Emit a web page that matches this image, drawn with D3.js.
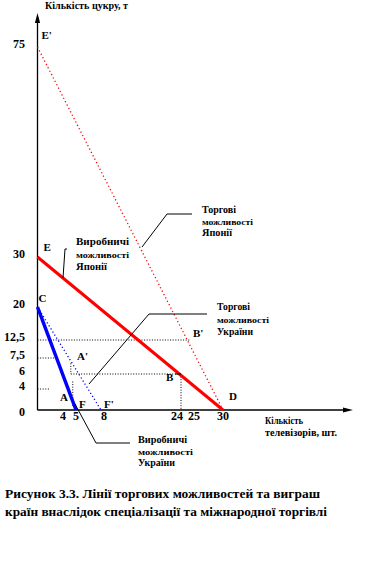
<!DOCTYPE html>
<html><head><meta charset="utf-8">
<script src="https://cdn.jsdelivr.net/npm/d3@7"></script>
<style>
html,body{margin:0;padding:0;background:#fff;}
svg{display:block;}
svg text{font-family:"Liberation Serif","Times New Roman",Times,serif !important;}
</style></head>
<body><svg id="c" width="365" height="571"></svg>
<script>
// ---- data ----
const xTicks = [4, 5, 8, 24, 25, 30];
const xTickLabels = ["4", "5", "8", "24", "25", "30"];
const yTicks = [0, 4, 6, 7.5, 12.5, 20, 30, 75];
const yTickLabels = ["0", "4", "6", "7,5", "12,5", "20", "30", "75"];
const japanPPF = [[0, 30], [30, 0]];        // E -> D
const japanTrade = [[0, 75], [30, 0]];      // E' -> D
const ukrainePPF = [[0, 20], [5, 0]];       // C -> F
const ukraineTrade = [[0, 20], [8, 0]];     // C -> F'
const pointNames = ["E'", "E", "C", "A'", "A", "F", "F'", "B", "B'", "D"];
const pointX = [0, 0, 0, 5, 4, 5, 8, 24, 25, 30];
const pointY = [75, 30, 20, 7.5, 4, 0, 0, 6, 12.5, 0];
const guides = [
  [[0, 12.5], [25, 12.5]],
  [[0, 7.5], [3, 7.5]],
  [[4.6, 7], [4.6, 6]],
  [[4.6, 6], [24, 6]],
  [[0, 4], [2, 4]],
  [[4.75, 5], [4.75, 0.5]],
  [[24, 6], [24, 0]]
];
const xAxisTitle = ["Кількість", "телевізорів, шт."];
const yAxisTitle = "Кількість цукру, т";
const calloutJapanPPF = ["Виробничі", "можливості", "Японії"];
const calloutJapanTrade = ["Торгові", "можливості", "Японії"];
const calloutUkraineTrade = ["Торгові", "можливості", "України"];
const calloutUkrainePPF = ["Виробничі", "можливості", "України"];
const caption = ["Рисунок 3.3. Лінії торгових можливостей та виграш",
                 "країн внаслідок спеціалізації та міжнародної торгівлі"];

// ---- layout (schematic, piecewise axes as in the original drawing) ----
const svg = d3.select("#c");
const x = d3.scaleLinear().domain([0, 4, 5, 8, 24, 25, 30, 40])
  .range([37.5, 63, 76, 101, 181, 190, 223, 289]);
const y = d3.scaleLinear().domain([0, 4, 6, 7.5, 12.5, 20, 30, 75])
  .range([410, 389, 374, 358, 340, 307, 257, 47]);
const line = d3.line().x(d => x(d[0])).y(d => y(d[1]));

// guides
svg.append("g").selectAll("path").data(guides).join("path")
  .attr("d", line).attr("fill", "none").attr("stroke", "#000")
  .attr("stroke-width", 1).attr("stroke-dasharray", "1,1.6");

// axes
const ax = svg.append("g").attr("stroke", "#000").attr("stroke-width", 1.3);
ax.append("line").attr("x1", x(0)).attr("x2", x(0)).attr("y1", y(0)).attr("y2", 20);
ax.append("line").attr("x1", x(0)).attr("x2", 345).attr("y1", y(0)).attr("y2", y(0));
svg.append("path").attr("d", `M${x(0)},13 L${x(0)-2.6},23 L${x(0)+2.6},23 Z`).attr("fill", "#000");
svg.append("path").attr("d", `M353,${y(0)} L343,${y(0)-2.5} L343,${y(0)+2.5} Z`).attr("fill", "#000");

// lines
svg.append("path").datum(japanTrade).attr("d", line).attr("fill", "none")
  .attr("stroke", "#ff0000").attr("stroke-width", 1.3).attr("stroke-dasharray", "1.2,2.6");
svg.append("path").datum(ukraineTrade).attr("d", line).attr("fill", "none")
  .attr("stroke", "#0000ff").attr("stroke-width", 1.3).attr("stroke-dasharray", "1.2,2.4");
svg.append("path").datum(japanPPF).attr("d", line).attr("fill", "none")
  .attr("stroke", "#ff0000").attr("stroke-width", 3);
svg.append("path").datum(ukrainePPF).attr("d", line).attr("fill", "none")
  .attr("stroke", "#0000ff").attr("stroke-width", 3.5);

// tick labels
svg.append("g").selectAll("text").data(yTicks).join("text")
  .attr("x", 25).attr("y", d => d === 0 ? y(d) + 3 : y(d) - 2)
  .attr("text-anchor", "end").attr("dominant-baseline", "middle")
  .attr("font-size", 12).attr("font-weight", "bold")
  .text((d, i) => yTickLabels[i]);
const xTickDx = {24: -4, 25: 4, 8: 3};
svg.append("g").selectAll("text").data(xTicks).join("text")
  .attr("x", d => x(d) + (xTickDx[d] || 0)).attr("y", 417)
  .attr("text-anchor", "middle").attr("dominant-baseline", "middle")
  .attr("font-size", 12).attr("font-weight", "bold")
  .text((d, i) => xTickLabels[i]);

// point labels
const labOff = {"E'": [4, -11], "E": [6, -9], "C": [1, -8], "A'": [1, -1], "A": [-3, 9],
  "F": [3, -5], "F'": [3, -5], "B": [-15, 4], "B'": [3, -6], "D": [6, -13]};
svg.append("g").selectAll("text").data(pointNames).join("text")
  .attr("x", (d, i) => x(pointX[i]) + labOff[d][0])
  .attr("y", (d, i) => y(pointY[i]) + labOff[d][1])
  .attr("dominant-baseline", "middle").attr("font-size", 11).attr("font-weight", "bold")
  .text(d => d);
svg.append("line").attr("x1", 175).attr("x2", x(24)).attr("y1", y(6)).attr("y2", y(6))
  .attr("stroke", "#000").attr("stroke-width", 1);

// axis titles
svg.append("text").attr("x", 45).attr("y", 7).attr("dominant-baseline", "middle")
  .attr("font-size", 10).attr("font-weight", "bold")
  .attr("textLength", 83).attr("lengthAdjust", "spacingAndGlyphs").text(yAxisTitle);
svg.append("g").selectAll("text").data(xAxisTitle).join("text")
  .attr("x", 265).attr("y", (d, i) => 422 + i * 12).attr("dominant-baseline", "middle")
  .attr("font-size", 10).attr("font-weight", "bold")
  .attr("textLength", (d, i) => i === 0 ? 38 : 72).attr("lengthAdjust", "spacingAndGlyphs")
  .text(d => d);

// callouts
function callout(lines, x0, ys, widths, path) {
  svg.append("path").attr("d", path).attr("fill", "none").attr("stroke", "#000").attr("stroke-width", 1);
  svg.append("g").selectAll("text").data(lines).join("text")
    .attr("x", x0).attr("y", (d, i) => ys[i]).attr("dominant-baseline", "middle")
    .attr("font-size", (d, i) => i === 1 ? 8 : 10).attr("font-weight", "bold")
    .attr("textLength", (d, i) => widths[i]).attr("lengthAdjust", "spacingAndGlyphs")
    .text(d => d);
}
callout(calloutJapanPPF, 76, [243, 256, 268], [53, 53, 31], "M63,278 L65,249 L67,249");
callout(calloutJapanTrade, 202, [211, 223, 234], [34, 51, 30], "M142,247 L167,214 L192,214");
callout(calloutUkraineTrade, 217, [308, 321, 333], [33, 52, 36], "M89,384 L149,314 L207,314");
callout(calloutUkrainePPF, 138, [441, 453, 464], [49, 55, 37], "M75,404 L96,443 L130,443");

// caption
svg.append("g").selectAll("text").data(caption).join("text")
  .attr("x", 5).attr("y", (d, i) => 495 + i * 18).attr("dominant-baseline", "middle")
  .attr("font-size", 13).attr("font-weight", "bold")
  .attr("textLength", (d, i) => i === 0 ? 315 : 322).attr("lengthAdjust", "spacingAndGlyphs")
  .text(d => d);
</script></body></html>
